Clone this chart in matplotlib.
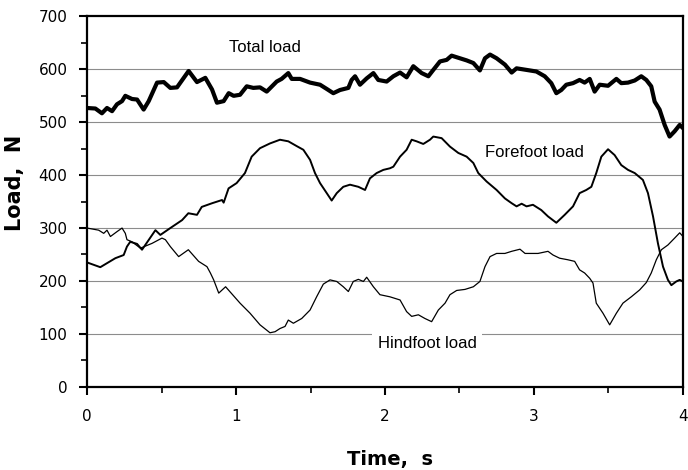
import numpy as np
import matplotlib.pyplot as plt
from matplotlib.ticker import MultipleLocator

total_t = [0, 0.056, 0.1, 0.134, 0.168, 0.201, 0.235, 0.257, 0.302, 0.336, 0.38, 0.414,
           0.47, 0.515, 0.559, 0.604, 0.682, 0.738, 0.794, 0.839, 0.872, 0.917, 0.951, 0.984,
           1.027, 1.072, 1.116, 1.161, 1.206, 1.273, 1.306, 1.351, 1.374, 1.43, 1.497, 1.564,
           1.609, 1.653, 1.698, 1.754, 1.776, 1.799, 1.832, 1.877, 1.922, 1.955,
           2.011, 2.056, 2.101, 2.145, 2.19, 2.246, 2.291, 2.324, 2.369, 2.414, 2.447, 2.503,
           2.548, 2.593, 2.637, 2.671, 2.705, 2.749, 2.805, 2.85, 2.883, 2.95,
           3.016, 3.072, 3.116, 3.15, 3.183, 3.217, 3.262, 3.306, 3.34, 3.374, 3.407, 3.441,
           3.497, 3.553, 3.586, 3.631, 3.676, 3.72, 3.754, 3.787, 3.81, 3.843, 3.877, 3.91,
           3.944, 3.978, 4.0]
total_load = [527, 526, 517, 527, 521, 534, 540, 550, 544, 543, 524, 540,
              575, 576, 565, 566, 597, 576, 584, 562, 537, 540, 555, 550,
              552, 568, 565, 566, 558, 577, 582, 593, 582, 582, 575, 571,
              563, 555, 561, 565, 580, 587, 571, 583, 593, 580,
              577, 587, 594, 585, 606, 593, 587, 599, 615, 618, 626, 621,
              617, 612, 598, 621, 628, 621, 609, 594, 602, 599,
              596, 587, 574, 555, 561, 571, 574, 580, 575, 582, 558, 571,
              569, 582, 574, 575, 579, 587, 580, 568, 539, 524, 495, 473,
              483, 495, 489]

fore_t = [0, 0.089, 0.19, 0.246, 0.268, 0.29, 0.336, 0.369, 0.459, 0.492, 0.559, 0.638,
          0.68, 0.738, 0.77, 0.84, 0.906, 0.917, 0.95, 1.004, 1.06, 1.105, 1.161, 1.228,
          1.295, 1.351, 1.407, 1.452, 1.497, 1.53, 1.564, 1.609, 1.642, 1.676, 1.72, 1.765,
          1.821, 1.866, 1.899, 1.944, 1.989, 2.033, 2.056, 2.101, 2.145, 2.179, 2.212, 2.257,
          2.302, 2.324, 2.38, 2.436, 2.492, 2.548, 2.593, 2.626, 2.682, 2.749, 2.805, 2.85,
          2.883, 2.917, 2.95, 2.993, 3.049, 3.094, 3.15, 3.206, 3.262, 3.306, 3.351, 3.385,
          3.418, 3.452, 3.497, 3.541, 3.586, 3.631, 3.676, 3.731, 3.765, 3.799, 3.832, 3.866,
          3.899, 3.922, 3.955, 3.978, 4.0]
forefoot_load = [235, 226, 243, 249, 265, 274, 270, 259, 296, 287, 300, 315,
                 328, 325, 340, 347, 353, 348, 375, 385, 404, 435, 451, 460,
                 467, 464, 455, 448, 429, 404, 385, 366, 352, 366, 378, 382,
                 378, 372, 394, 404, 410, 413, 416, 435, 448, 467, 464, 459,
                 467, 473, 470, 454, 442, 435, 423, 404, 388, 372, 356, 347,
                 341, 346, 341, 344, 334, 322, 310, 325, 341, 366, 372, 378,
                 404, 435, 449, 438, 419, 410, 404, 391, 366, 322, 271, 227,
                 202, 192, 199, 202, 199]

hind_t = [0, 0.078, 0.112, 0.134, 0.157, 0.2, 0.235, 0.257, 0.268, 0.302, 0.358, 0.436,
          0.503, 0.526, 0.559, 0.615, 0.68, 0.749, 0.805, 0.828, 0.85, 0.884, 0.93, 1.027,
          1.094, 1.161, 1.228, 1.262, 1.295, 1.329, 1.351, 1.385, 1.441, 1.497, 1.541, 1.586,
          1.631, 1.676, 1.72, 1.754, 1.787, 1.821, 1.855, 1.877, 1.922, 1.966, 2.033, 2.101,
          2.145, 2.179, 2.224, 2.268, 2.313, 2.358, 2.403, 2.436, 2.481, 2.537, 2.593, 2.637,
          2.671, 2.705, 2.749, 2.805, 2.85, 2.906, 2.94, 3.027, 3.094, 3.128, 3.172, 3.228,
          3.273, 3.306, 3.34, 3.374, 3.396, 3.418, 3.463, 3.508, 3.553, 3.597, 3.653, 3.709,
          3.754, 3.787, 3.821, 3.855, 3.899, 3.944, 3.978, 4.0]
hindfoot_load = [300, 296, 290, 296, 284, 293, 300, 290, 278, 274, 262, 271,
                 281, 278, 265, 246, 259, 237, 227, 215, 202, 177, 189, 158,
                 139, 117, 102, 104, 110, 114, 126, 120, 129, 145, 170, 194,
                 202, 199, 189, 180, 199, 203, 199, 207, 189, 174, 170, 164,
                 142, 133, 136, 129, 123, 145, 158, 174, 182, 184, 189, 199,
                 227, 246, 252, 252, 256, 260, 252, 252, 256, 249, 243, 240,
                 237, 221, 215, 205, 196, 158, 139, 117, 139, 158, 170, 183,
                 197, 215, 240, 259, 268, 281, 291, 284]

x_ticks = [0, 1, 2, 3, 4]
y_ticks = [0, 100, 200, 300, 400, 500, 600, 700]

fig = plt.figure(figsize=(6.88, 4.70), dpi=100)
fig.patch.set_facecolor("white")
ax = fig.add_axes([0.1265, 0.1772, 0.8662, 0.7877])

# horizontal grid lines
for y in y_ticks[1:-1]:
    ax.axhline(y, color="#8c8c8c", linewidth=0.8, zorder=1)

ax.plot(total_t, total_load, color="black", linewidth=3.0, solid_joinstyle="round", zorder=3)
ax.plot(fore_t, forefoot_load, color="black", linewidth=1.4, zorder=3)
ax.plot(hind_t, hindfoot_load, color="black", linewidth=0.9, zorder=3)

label_font = dict(family="Liberation Sans", fontsize=12, color="black")
ax.text(1.195, 642, "Total load", ha="center", va="center", **label_font)
ax.text(3.0, 443, "Forefoot load", ha="center", va="center", **label_font)
ax.text(2.282, 82, "Hindfoot load", ha="center", va="center", zorder=2,
        bbox=dict(facecolor="white", edgecolor="none", pad=4), **label_font)

ax.set_xlim(0, 4)
ax.set_ylim(0, 700)
ax.set_xticks(x_ticks)
ax.set_yticks(y_ticks)
ax.xaxis.set_minor_locator(MultipleLocator(0.5))
ax.yaxis.set_minor_locator(MultipleLocator(50))
ax.tick_params(which="major", direction="out", length=6, width=1.5, labelsize=11, pad=8)
ax.tick_params(axis="x", which="major", pad=10)
ax.tick_params(which="minor", direction="out", length=4, width=1.2)
for s in ax.spines.values():
    s.set_linewidth(1.6)

ax.set_xlabel("Time,  s", fontsize=14, fontweight="bold")
ax.set_ylabel("Load,  N", fontsize=15, fontweight="bold")
ax.xaxis.set_label_coords(0.508, -0.172)
ax.yaxis.set_label_coords(-0.104, 0.55)

fig.savefig("out.png", dpi=100)
